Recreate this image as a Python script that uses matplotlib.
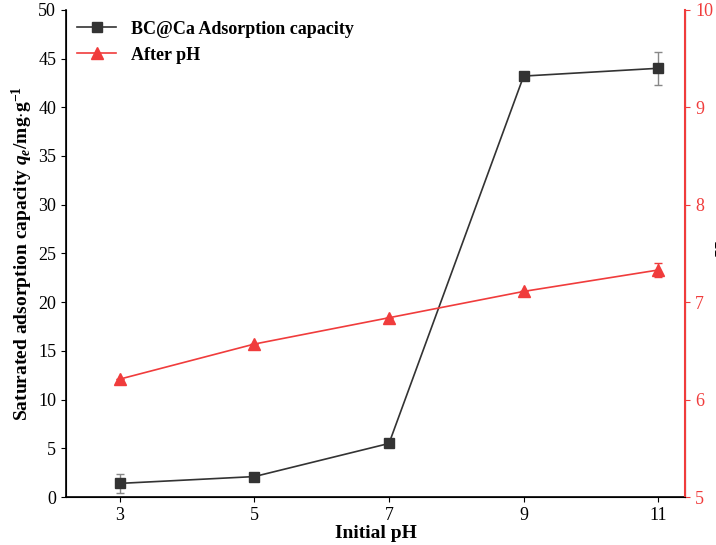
import matplotlib
matplotlib.use("Agg")
import matplotlib.pyplot as plt
from matplotlib.lines import Line2D

ph_initial = [3, 5, 7, 9, 11]
capacity = [1.4, 2.1, 5.5, 43.2, 44.0]
capacity_err = [1.0, 0.3, 0.3, 0.3, 1.7]
ph_after = [6.21, 6.57, 6.84, 7.11, 7.33]
ph_after_err = [0.0, 0.0, 0.0, 0.0, 0.07]

plt.rcParams["font.family"] = "Liberation Serif"
plt.rcParams["mathtext.fontset"] = "custom"
plt.rcParams["mathtext.rm"] = "Liberation Serif:bold"
plt.rcParams["mathtext.it"] = "Liberation Serif:bold:italic"

fig = plt.figure(figsize=(7.16, 5.45), dpi=100)
ax = fig.add_axes([0.092, 0.088, 0.865, 0.894])
ax2 = ax.twinx()

black = "#333333"
red = "#f03c3c"
ax.errorbar(ph_initial, capacity, yerr=capacity_err, color=black, marker="s",
            markersize=7, lw=1.2, capsize=3, ecolor="#888888", elinewidth=1)
ax2.errorbar(ph_initial, ph_after, yerr=ph_after_err, color=red, marker="^",
             markersize=8, lw=1.2, capsize=3, elinewidth=1)

ax.set_xlim(2.2, 11.4)
ax.set_ylim(0, 50)
ax2.set_ylim(5, 10)
ax.set_xticks(ph_initial)
ax.set_yticks(range(0, 51, 5))
ax2.set_yticks(range(5, 11))
ax.tick_params(labelsize=13, direction="out")
ax2.tick_params(labelsize=13, colors=red)
ax2.spines["right"].set_color(red)
ax2.spines["right"].set_linewidth(1.5)
ax.spines["left"].set_linewidth(1.2)
ax.spines["bottom"].set_linewidth(1.2)
ax.spines["top"].set_visible(False)
ax2.spines["top"].set_visible(False)

ax.set_xlabel("Initial pH", fontsize=14, fontweight="bold", labelpad=1)
ax.set_ylabel(r"Saturated adsorption capacity $q_e$/mg$\cdot$g$^{-1}$", fontsize=14, fontweight="bold", labelpad=2)
ax2.set_ylabel("pH", fontsize=14, fontweight="bold", labelpad=2)

handles = [Line2D([], [], color=black, marker="s", markersize=7, lw=1.2),
           Line2D([], [], color=red, marker="^", markersize=8, lw=1.2)]
ax.legend(handles, ["BC@Ca Adsorption capacity", "After pH"], loc="upper left",
          frameon=False, borderaxespad=0.2, handlelength=2.2,
          prop={"weight": "bold", "size": 13})

fig.savefig("out.png", dpi=100)
